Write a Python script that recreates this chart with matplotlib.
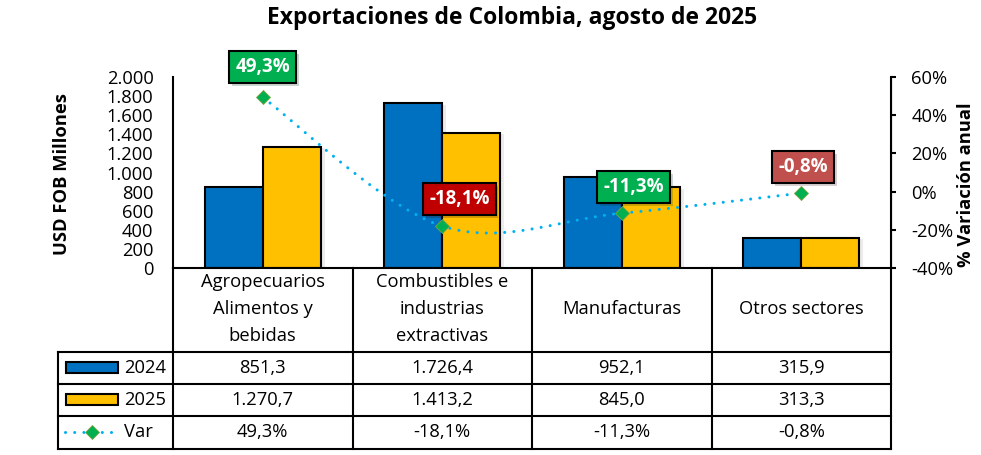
import numpy as np
import matplotlib.pyplot as plt
import matplotlib.patheffects as pe
from matplotlib.transforms import blended_transform_factory
from matplotlib.patches import Rectangle
from matplotlib.lines import Line2D

plt.rcParams['font.family'] = ['Open Sans', 'DejaVu Sans']

categorias = ["Agropecuarios\nAlimentos y\nbebidas", "Combustibles e\nindustrias\nextractivas",
              "Manufacturas", "Otros sectores"]
v2024 = [851.3, 1726.4, 952.1, 315.9]
v2025 = [1270.7, 1413.2, 845.0, 313.3]
var = [49.3, -18.1, -11.3, -0.8]
etiquetas_var = ["49,3%", "-18,1%", "-11,3%", "-0,8%"]
etiquetas_2024 = ["851,3", "1.726,4", "952,1", "315,9"]
etiquetas_2025 = ["1.270,7", "1.413,2", "845,0", "313,3"]
colores_var = ["#00B050", "#C00000", "#00B050", "#C0504D"]
offsets_var = [(0, 30), (17, 27), (12, 26), (2, 26)]

AZUL = "#0070C0"
AMARILLO = "#FFC000"
CIAN = "#00B0F0"
VERDE = "#00B050"
FS = 13.2

W, H = 981, 455
fig = plt.figure(figsize=(W / 100, H / 100), dpi=100)
x0, x1, ytop, ybot = 173, 891, 77, 268
ax = fig.add_axes([x0 / W, 1 - ybot / H, (x1 - x0) / W, (ybot - ytop) / H])
ax2 = ax.twinx()

x = np.arange(len(categorias))
bw = 0.323
sombra = [pe.SimplePatchShadow(offset=(3, -1), alpha=0.15, shadow_rgbFace='gray'), pe.Normal()]
ax.bar(x - bw / 2, v2024, bw, color=AZUL, edgecolor='black', linewidth=1.5, path_effects=sombra, zorder=2)
ax.bar(x + bw / 2, v2025, bw, color=AMARILLO, edgecolor='black', linewidth=1.5, path_effects=sombra, zorder=2)

ax.set_xlim(-0.5, len(categorias) - 0.5)
ax.set_ylim(0, 2000)
ax.set_yticks(np.arange(0, 2001, 200))
ax.set_yticklabels([f"{int(v):,}".replace(",", ".") for v in np.arange(0, 2001, 200)])
ax.tick_params(axis='y', length=0, pad=14, labelsize=FS)
ax.set_xticks([])
ax.spines['top'].set_visible(False)
ax2.spines['top'].set_visible(False)
ax.spines['left'].set_linewidth(1.5)
ax.spines['bottom'].set_linewidth(1.5)
ax2.spines['right'].set_linewidth(1.5)
ax2.spines['left'].set_visible(False)
ax2.spines['bottom'].set_visible(False)

# linea suavizada (Catmull-Rom, como Excel)
pts = np.column_stack([x, var]).astype(float)
ext = np.vstack([pts[0], pts, pts[-1]])
curva = []
for i in range(1, len(ext) - 2):
    p0, p1, p2, p3 = ext[i - 1], ext[i], ext[i + 1], ext[i + 2]
    c1 = p1 + (p2 - p0) / 6
    c2 = p2 - (p3 - p1) / 6
    t = np.linspace(0, 1, 40)[:, None]
    curva.append((1 - t) ** 3 * p1 + 3 * (1 - t) ** 2 * t * c1 + 3 * (1 - t) * t ** 2 * c2 + t ** 3 * p2)
curva = np.vstack(curva)
ax2.plot(curva[:, 0], curva[:, 1], color=CIAN, linewidth=2.2, linestyle=(0, (0.01, 3)),
         dash_capstyle='round', zorder=3)
ax2.plot(x, var, linestyle='none', marker='D', markersize=7, color=VERDE,
         markeredgecolor='#7FA040', markeredgewidth=0.6, zorder=4)
ax2.set_ylim(-40, 60)
ax2.set_yticks(np.arange(-40, 61, 20))
ax2.set_yticklabels([f"{int(v)}%" for v in np.arange(-40, 61, 20)])
ax2.tick_params(axis='y', length=3.5, width=1.5, pad=11, labelsize=FS)

for xi, vi, lab, col, off in zip(x, var, etiquetas_var, colores_var, offsets_var):
    ax2.annotate(lab, (xi, vi), xytext=off, textcoords='offset pixels', ha='center', va='center',
                 color='white', fontsize=13.5, fontweight='bold', zorder=5,
                 bbox=dict(boxstyle='square,pad=0.32', fc=col, ec='black', lw=1.5,
                           path_effects=[pe.SimplePatchShadow(offset=(2, -2), alpha=0.2), pe.Normal()]))

# tabla de datos
tr = blended_transform_factory(ax.transData, ax.transAxes)


def ya(py):
    return (ybot - py) / (ybot - ytop)


def xd(px):
    return -0.5 + (px - x0) / ((x1 - x0) / len(categorias))


filas = [268, 352, 384, 416, 449]
xleg = xd(58)
lw_t = 1.5
for py in filas[1:]:
    ax.plot([xleg, 3.5], [ya(py)] * 2, color='black', lw=lw_t, transform=tr, clip_on=False)
ax.plot([xleg, xleg], [ya(352), ya(449)], color='black', lw=lw_t, transform=tr, clip_on=False)
for xc in np.arange(-0.5, len(categorias), 1.0):
    ax.plot([xc, xc], [0, ya(449)], color='black', lw=lw_t, transform=tr, clip_on=False)

for xi, cat in zip(x, categorias):
    ax.text(xi, ya(309), cat, transform=tr, ha='center', va='center', fontsize=FS, linespacing=1.62)
for fila, labs in zip([368, 400, 432], [etiquetas_2024, etiquetas_2025, etiquetas_var]):
    for xi, lab in zip(x, labs):
        ax.text(xi, ya(fila), lab, transform=tr, ha='center', va='center', fontsize=FS)

# claves de leyenda en la tabla
for py, col, nombre in [(368, AZUL, "2024"), (400, AMARILLO, "2025")]:
    fig.patches.append(Rectangle((66 / W, 1 - (py + 5) / H), 52 / W, 11 / H, transform=fig.transFigure,
                                 fc=col, ec='black', lw=1.5))
    fig.text(124 / W, 1 - py / H, nombre, ha='left', va='center', fontsize=FS)
fig.add_artist(Line2D([65 / W, 117 / W], [1 - 432 / H] * 2, transform=fig.transFigure, color=CIAN,
                      lw=2.2, linestyle=(0, (0.01, 3)), dash_capstyle='round'))
fig.add_artist(Line2D([92 / W], [1 - 432 / H], transform=fig.transFigure, marker='D', markersize=7,
                      color=VERDE, markeredgecolor='#7FA040', markeredgewidth=0.6))
fig.text(124 / W, 1 - 432 / H, "Var", ha='left', va='center', fontsize=FS)

fig.text(512 / W, 1 - 18 / H, "Exportaciones de Colombia, agosto de 2025", ha='center', va='center',
         fontsize=16.5, fontweight='bold')
fig.text(62 / W, 1 - 174 / H, "USD FOB Millones", rotation=90, ha='center', va='center',
         fontsize=FS, fontweight='bold')
fig.text(966 / W, 1 - 185 / H, "% Variación anual", rotation=90, ha='center', va='center',
         fontsize=FS, fontweight='bold')

fig.savefig("out.png", dpi=100)
